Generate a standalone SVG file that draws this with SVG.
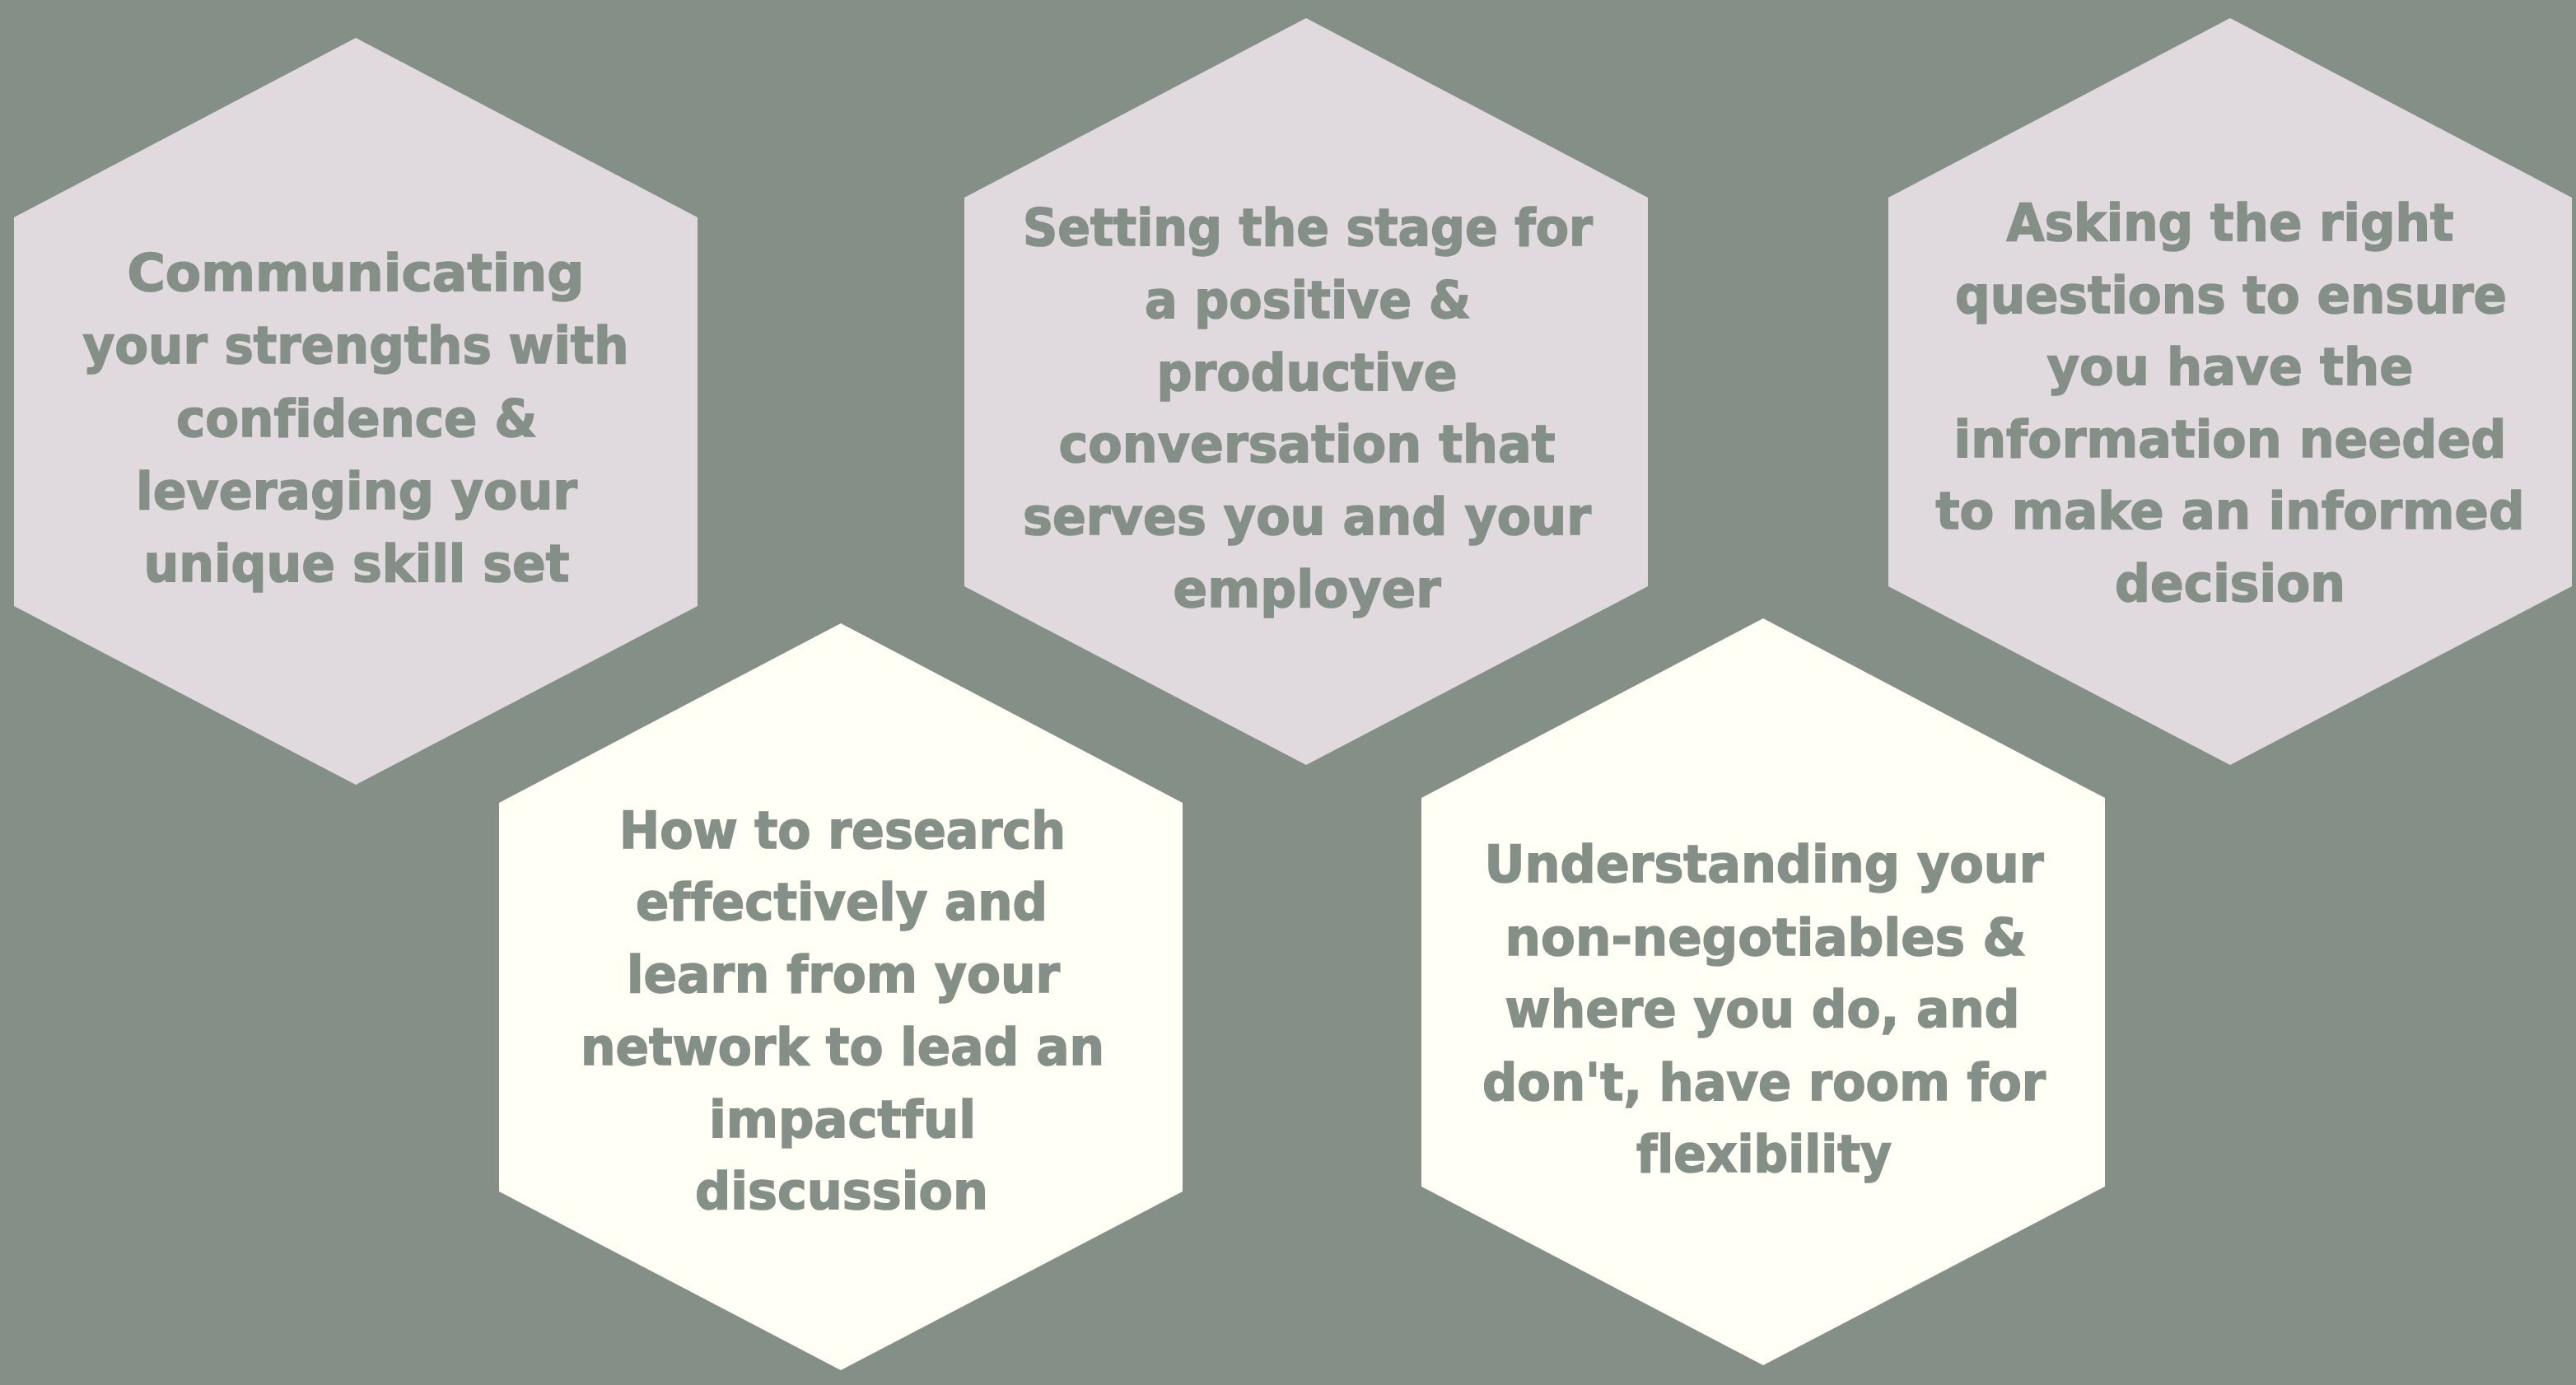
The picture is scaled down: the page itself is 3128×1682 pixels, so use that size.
<svg xmlns="http://www.w3.org/2000/svg" width="3128" height="1682" viewBox="0 0 3128 1682">
<style>
.bg{fill:#849087}
.lav{fill:#E0DADE}
.crm{fill:#FFFFF5}
.t{font-family:"DejaVu Sans","Open Sans",sans-serif;font-weight:700;font-size:62px;fill:#849087;stroke:#849087;stroke-width:1.6px;text-anchor:middle;font-variant-ligatures:none}
</style>
<rect class="bg" x="0" y="0" width="3128" height="1682"/>
<g id="connectors"></g>
<g id="node1">
<polygon class="lav" points="432,46 847,264 847,736 432,953 17,736 17,264"/>
<text class="t" lengthAdjust="spacingAndGlyphs" x="432" y="353" textLength="555">Communicating</text>
<text class="t" lengthAdjust="spacingAndGlyphs" x="432" y="441" textLength="663">your strengths with</text>
<text class="t" lengthAdjust="spacingAndGlyphs" x="433" y="530" textLength="438">confidence &amp;</text>
<text class="t" lengthAdjust="spacingAndGlyphs" x="433" y="618" textLength="536">leveraging your</text>
<text class="t" lengthAdjust="spacingAndGlyphs" x="433" y="706" textLength="517">unique skill set</text>
</g>
<g id="node2">
<polygon class="lav" points="1586,22 2001,240 2001,712 1586,929 1171,712 1171,240"/>
<text class="t" lengthAdjust="spacingAndGlyphs" x="1588" y="298" textLength="692">Setting the stage for</text>
<text class="t" lengthAdjust="spacingAndGlyphs" x="1588" y="386" textLength="396">a positive &amp;</text>
<text class="t" lengthAdjust="spacingAndGlyphs" x="1587" y="474" textLength="365">productive</text>
<text class="t" lengthAdjust="spacingAndGlyphs" x="1587" y="561" textLength="603">conversation that</text>
<text class="t" lengthAdjust="spacingAndGlyphs" x="1587" y="649" textLength="690">serves you and your</text>
<text class="t" lengthAdjust="spacingAndGlyphs" x="1587" y="737" textLength="325">employer</text>
</g>
<g id="node3">
<polygon class="lav" points="2708,22 3123,240 3123,712 2708,929 2293,712 2293,240"/>
<text class="t" lengthAdjust="spacingAndGlyphs" x="2708" y="292" textLength="543">Asking the right</text>
<text class="t" lengthAdjust="spacingAndGlyphs" x="2709" y="380" textLength="670">questions to ensure</text>
<text class="t" lengthAdjust="spacingAndGlyphs" x="2708" y="467" textLength="445">you have the</text>
<text class="t" lengthAdjust="spacingAndGlyphs" x="2708" y="555" textLength="671">information needed</text>
<text class="t" lengthAdjust="spacingAndGlyphs" x="2708" y="642" textLength="715">to make an informed</text>
<text class="t" lengthAdjust="spacingAndGlyphs" x="2708" y="730" textLength="280">decision</text>
</g>
<g id="node4">
<polygon class="crm" points="1021,757 1436,975 1436,1447 1021,1664 606,1447 606,975"/>
<text class="t" lengthAdjust="spacingAndGlyphs" x="1023" y="1030" textLength="542">How to research</text>
<text class="t" lengthAdjust="spacingAndGlyphs" x="1022" y="1117" textLength="500">effectively and</text>
<text class="t" lengthAdjust="spacingAndGlyphs" x="1024" y="1205" textLength="526">learn from your</text>
<text class="t" lengthAdjust="spacingAndGlyphs" x="1023" y="1293" textLength="636">network to lead an</text>
<text class="t" lengthAdjust="spacingAndGlyphs" x="1023" y="1381" textLength="324">impactful</text>
<text class="t" lengthAdjust="spacingAndGlyphs" x="1022" y="1468" textLength="356">discussion</text>
</g>
<g id="node5">
<polygon class="crm" points="2141,751 2556,969 2556,1441 2141,1658 1726,1441 1726,969"/>
<text class="t" lengthAdjust="spacingAndGlyphs" x="2142" y="1071" textLength="679">Understanding your</text>
<text class="t" lengthAdjust="spacingAndGlyphs" x="2144" y="1160" textLength="633">non-negotiables &amp;</text>
<text class="t" lengthAdjust="spacingAndGlyphs" x="2140" y="1247" textLength="625">where you do, and</text>
<text class="t" lengthAdjust="spacingAndGlyphs" x="2142" y="1336" textLength="684">don't, have room for</text>
<text class="t" lengthAdjust="spacingAndGlyphs" x="2142" y="1423" textLength="310">flexibility</text>
</g>
</svg>
